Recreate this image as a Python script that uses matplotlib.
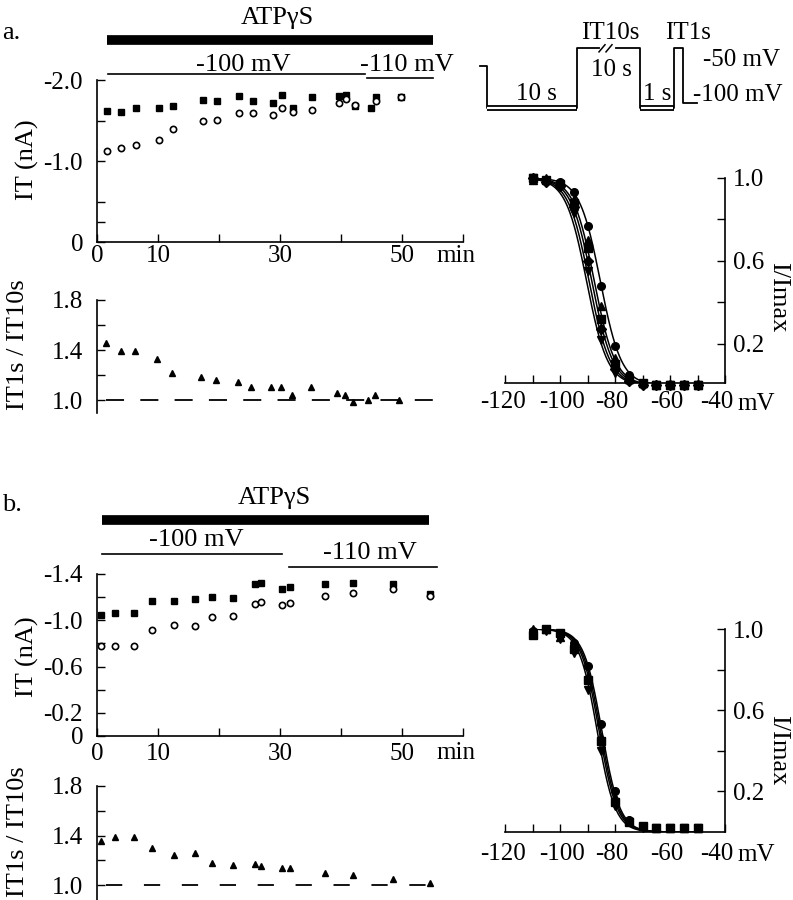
import numpy as np
import matplotlib
matplotlib.use("Agg")
import matplotlib.pyplot as plt
from matplotlib.transforms import ScaledTranslation

plt.rcParams['font.family'] = ['Liberation Serif', 'DejaVu Serif']
plt.rcParams['font.size'] = 18

W, H = 793, 900

# ---- panel a data ----
a_t_sq = [1.7, 4.0, 6.4, 10.2, 12.5, 17.3, 19.7, 23.2, 25.5, 28.9, 30.4, 32.2, 35.3, 39.7, 40.9, 42.3, 44.9, 45.8, 49.8]
a_IT_sq = [-1.62, -1.61, -1.66, -1.66, -1.68, -1.75, -1.74, -1.80, -1.74, -1.72, -1.81, -1.66, -1.79, -1.80, -1.82, -1.68, -1.66, -1.79, -1.79]
a_t_circ = [1.7, 4.0, 6.4, 10.2, 12.5, 17.3, 19.7, 23.2, 25.5, 28.9, 30.4, 32.2, 35.3, 39.7, 40.9, 42.3, 45.8, 49.8]
a_IT_circ = [-1.12, -1.16, -1.20, -1.26, -1.39, -1.49, -1.51, -1.59, -1.59, -1.57, -1.65, -1.61, -1.63, -1.71, -1.76, -1.69, -1.74, -1.79]
a_t_ratio = [1.5, 3.9, 6.2, 9.9, 12.3, 17.0, 19.5, 23.1, 25.2, 28.6, 30.2, 32.0, 35.1, 39.3, 40.7, 42.0, 44.5, 45.6, 49.5]
a_ratio = [1.46, 1.39, 1.39, 1.33, 1.22, 1.19, 1.16, 1.15, 1.11, 1.11, 1.11, 1.04, 1.11, 1.06, 1.04, 0.99, 1.00, 1.04, 1.00]

# ---- panel b data ----
b_t = [0.7, 3.0, 6.0, 9.0, 12.6, 16.0, 18.9, 22.3, 25.9, 26.9, 30.4, 31.6, 37.4, 41.9, 48.5, 54.6]
b_IT_sq = [-1.05, -1.06, -1.06, -1.17, -1.17, -1.18, -1.20, -1.19, -1.31, -1.32, -1.27, -1.29, -1.31, -1.32, -1.31, -1.23]
b_IT_circ = [-0.78, -0.78, -0.78, -0.92, -0.96, -0.95, -1.03, -1.04, -1.14, -1.16, -1.13, -1.15, -1.21, -1.24, -1.27, -1.21]
b_ratio = [1.36, 1.385, 1.385, 1.30, 1.24, 1.26, 1.175, 1.16, 1.17, 1.155, 1.135, 1.135, 1.10, 1.08, 1.046, 1.02]

# ---- inactivation curves ----
volts = [-110, -105, -100, -95, -90, -85, -80, -75, -70, -65, -60, -55, -50]
a_inact = {
    'o': [1.0, 0.99, 0.98, 0.93, 0.77, 0.48, 0.19, 0.05, 0.01, 0.0, 0.0, 0.0, 0.0],
    'v': [1.0, 0.98, 0.96, 0.83, 0.55, 0.22, 0.06, 0.02, 0.0, 0.0, 0.0, 0.0, 0.0],
    's': [1.0, 0.99, 0.97, 0.88, 0.66, 0.32, 0.10, 0.03, 0.01, 0.0, 0.0, 0.0, 0.0],
    '^': [0.99, 1.0, 0.97, 0.90, 0.70, 0.38, 0.13, 0.03, 0.01, 0.0, 0.0, 0.0, 0.0],
    'D': [1.0, 0.98, 0.96, 0.86, 0.60, 0.27, 0.08, 0.02, 0.0, 0.0, 0.0, 0.0, 0.0],
}
a_vhalf = [-85.3, -90.3, -88.4, -87.5, -89.4]
a_slope = [3.8, 3.8, 3.8, 3.8, 3.8]
b_inact = {
    'o': [0.99, 1.0, 0.97, 0.93, 0.82, 0.53, 0.20, 0.06, 0.03, 0.02, 0.02, 0.02, 0.02],
    's': [0.97, 1.0, 0.98, 0.90, 0.75, 0.45, 0.15, 0.05, 0.03, 0.02, 0.02, 0.02, 0.02],
    'v': [0.98, 0.99, 0.95, 0.88, 0.70, 0.40, 0.13, 0.05, 0.02, 0.02, 0.02, 0.02, 0.02],
    '^': [1.0, 1.0, 0.96, 0.91, 0.77, 0.47, 0.17, 0.06, 0.03, 0.02, 0.02, 0.02, 0.02],
}
b_vhalf = [-84.8, -85.8, -86.5, -85.3]
b_slope = [3.3, 3.3, 3.3, 3.3]

# protocol schematic (x: arbitrary units, y: mV)
proto_x = [10, 16.7, 16.7, 106.7, 106.7, 170, 170, 204, 204, 213, 213, 226.7]
proto_v = [-65, -65, -100, -100, -50, -50, -100, -100, -50, -50, -96, -96]


def rect(l, t, r, b):
    return [l / W, 1 - b / H, (r - l) / W, (b - t) / H]


def style_left(ax):
    ax.spines['top'].set_visible(False)
    ax.spines['right'].set_visible(False)
    ax.tick_params(direction='in', length=6, width=1, labelsize=18)
    for s in ax.spines.values():
        s.set_linewidth(1.2)


def time_panel(top, bottom, ylim, yticks, ylabels, t_sq, sq, t_c, circ, xpad):
    ax = fig.add_axes(rect(97, top, 463, bottom))
    style_left(ax)
    ax.plot(t_sq, sq, 's', color='black', ms=4.5, clip_on=False)
    ax.plot(t_c, circ, 'o', mfc='white', mec='black', mew=1.2, ms=4.5, clip_on=False)
    ax.set_xlim(0, 60)
    ax.set_ylim(*ylim)
    ax.set_xticks(range(0, 61, 10))
    ax.set_xticklabels(['0', '10', '', '30', '', '50', ''])
    ax.set_yticks(yticks)
    ax.set_yticklabels(ylabels)
    ax.tick_params(axis='x', pad=xpad)
    ax.tick_params(axis='y', pad=10)
    return ax


def ratio_panel(top, bottom, ylo, t, r, dash_end, dashes):
    ax = fig.add_axes(rect(97, top, 463, bottom))
    ax.spines['top'].set_visible(False)
    ax.spines['right'].set_visible(False)
    ax.spines['bottom'].set_visible(False)
    ax.spines['left'].set_linewidth(1.2)
    ax.tick_params(direction='in', length=6, width=1, labelsize=18, pad=10)
    ax.set_xticks([])
    ax.set_xlim(0, 60)
    ax.set_ylim(ylo, 1.8)
    ax.set_yticks([1.0, 1.2, 1.4, 1.6, 1.8])
    ax.set_yticklabels(['1.0', '', '1.4', '', '1.8'])
    ax.plot([1.5, dash_end], [1.0, 1.0], color='black', lw=1.3, dashes=dashes)
    ax.plot(t, r, '^', color='black', ms=5, clip_on=False)
    return ax


def inact_panel(top, bottom, ylo, data, vh, k, xpad):
    ax = fig.add_axes(rect(505, top, 725, bottom))
    ax.spines['top'].set_visible(False)
    ax.spines['left'].set_visible(False)
    for s in ax.spines.values():
        s.set_linewidth(1.2)
    ax.yaxis.tick_right()
    ax.tick_params(direction='in', length=6, width=1, labelsize=18)
    ax.tick_params(axis='y', pad=6)
    ax.tick_params(axis='x', pad=xpad)
    vv = np.linspace(-110, -50, 300)
    for m, h, s in zip(data.keys(), vh, k):
        ax.plot(vv, 1 / (1 + np.exp((vv - h) / s)), color='black', lw=1.1)
        ax.plot(volts, data[m], m, color='black', ms=5.5, clip_on=False)
    ax.set_xlim(-120, -40)
    ax.set_ylim(ylo, 1.0)
    ax.set_xticks(range(-120, -39, 10))
    ax.set_xticklabels(['-120', '', '-100', '', '-80', '', '-60', '', '-40'])
    ax.set_yticks([0.2, 0.4, 0.6, 0.8, 1.0])
    ax.set_yticklabels(['0.2', '', '0.6', '', '1.0'])
    # the printed labels sit a little left of their ticks
    shifts = [-2, 0, 2, 0, -3, 0, -3, 0, -8]
    for lab, dx in zip(ax.get_xticklabels(), shifts):
        lab.set_transform(lab.get_transform() + ScaledTranslation(dx / 100, 0, fig.dpi_scale_trans))
    return ax


fig = plt.figure(figsize=(W / 100, H / 100), dpi=100)

# ================= panel a =================
axa = time_panel(80, 242, (0, -2.0), [0, -0.25, -0.5, -1.0, -1.5, -2.0],
                 ['0', '', '', '-1.0', '', '-2.0'],
                 a_t_sq, a_IT_sq, a_t_circ, a_IT_circ, 2)
axa.plot([1.6, 55.1], [-2.50, -2.50], color='black', lw=7, solid_capstyle='butt', clip_on=False)
axa.plot([1.8, 43.9], [-2.08, -2.08], color='black', lw=1.2, clip_on=False)
axa.plot([44.2, 55.1], [-2.02, -2.02], color='black', lw=1.2, clip_on=False)
axa.text(29.5, -2.77, 'ATPγS', ha='center', va='center', fontsize=19)
axa.text(24, -2.19, '-100 mV', ha='center', va='center', fontsize=19)
axa.text(50.8, -2.19, '-110 mV', ha='center', va='center', fontsize=19)
fig.text(436 / W, 1 - 256 / H, 'min', ha='left', va='center', fontsize=18)
fig.text(2 / W, 1 - 33 / H, 'a.', ha='left', va='center', fontsize=19)
fig.text(27 / W, 1 - 160 / H, 'IT (nA)', rotation=90, ha='center', va='center', fontsize=19)

ratio_panel(300, 413, 0.9, a_t_ratio, a_ratio, 56.7, (10, 9))
fig.text(18 / W, 1 - 345 / H, 'IT1s / IT10s', rotation=90, ha='center', va='center', fontsize=19)

inact_panel(178, 383, 0.01, a_inact, a_vhalf, a_slope, 6)
fig.text(737 / W, 1 - 404 / H, 'mV', ha='left', va='center', fontsize=18)
fig.text(778 / W, 1 - 297 / H, 'I/Imax', rotation=-90, ha='center', va='center', fontsize=19)

# protocol
axp = fig.add_axes(rect(470, 0, 793, 130))
axp.axis('off')
axp.set_xlim(0, 323)
axp.set_ylim(-118.4, -9.55)
axp.plot(proto_x, proto_v, color='black', lw=1.3)
for x0, x1 in [(16.7, 106.7), (170, 204)]:
    axp.plot([x0, x1], [-100, -100], color='black', lw=4.2, solid_capstyle='butt')
    axp.plot([x0 + 0.8, x1 - 0.8], [-100, -100], color='white', lw=1.6, solid_capstyle='butt')
axp.plot([132, 143], [-50, -50], color='white', lw=3)
axp.plot([129, 135], [-53, -47], color='black', lw=1.1)
axp.plot([136, 142], [-53, -47], color='black', lw=1.1)
axp.text(140, -37.5, 'IT10s', ha='center', va='center', fontsize=18)
axp.text(141, -68, '10 s', ha='center', va='center', fontsize=18)
axp.text(66.7, -88.5, '10 s', ha='center', va='center', fontsize=18)
axp.text(187, -88.5, '1 s', ha='center', va='center', fontsize=18)
axp.text(218, -37.5, 'IT1s', ha='center', va='center', fontsize=18)
axp.text(233, -59.5, '-50 mV', ha='left', va='center', fontsize=18)
axp.text(223, -89, '-100 mV', ha='left', va='center', fontsize=18)

# ================= panel b =================
axb = time_panel(574, 736, (0, -1.4), [0, -0.2, -0.4, -0.6, -0.8, -1.0, -1.2, -1.4],
                 ['0', '-0.2', '', '-0.6', '', '-1.0', '', '-1.4'],
                 b_t, b_IT_sq, b_t, b_IT_circ, 5)
axb.plot([0.9, 54.5], [-1.87, -1.87], color='black', lw=7, solid_capstyle='butt', clip_on=False)
axb.plot([0.9, 30.3], [-1.57, -1.57], color='black', lw=1.2, clip_on=False)
axb.plot([31.4, 55.8], [-1.46, -1.46], color='black', lw=1.2, clip_on=False)
axb.text(29.0, -2.06, 'ATPγS', ha='center', va='center', fontsize=19)
axb.text(16.3, -1.69, '-100 mV', ha='center', va='center', fontsize=19)
axb.text(44.8, -1.58, '-110 mV', ha='center', va='center', fontsize=19)
fig.text(436 / W, 1 - 753 / H, 'min', ha='left', va='center', fontsize=18)
fig.text(2 / W, 1 - 505 / H, 'b.', ha='left', va='center', fontsize=19)
fig.text(27 / W, 1 - 657 / H, 'IT (nA)', rotation=90, ha='center', va='center', fontsize=19)

ratio_panel(786, 900, 0.88, b_t, b_ratio, 56.6, (9, 12))
fig.text(18 / W, 1 - 832 / H, 'IT1s / IT10s', rotation=90, ha='center', va='center', fontsize=19)

inact_panel(629, 832, 0.0, b_inact, b_vhalf, b_slope, 8)
fig.text(737 / W, 1 - 855 / H, 'mV', ha='left', va='center', fontsize=18)
fig.text(778 / W, 1 - 750 / H, 'I/Imax', rotation=-90, ha='center', va='center', fontsize=19)

fig.savefig('out.png', dpi=100)
